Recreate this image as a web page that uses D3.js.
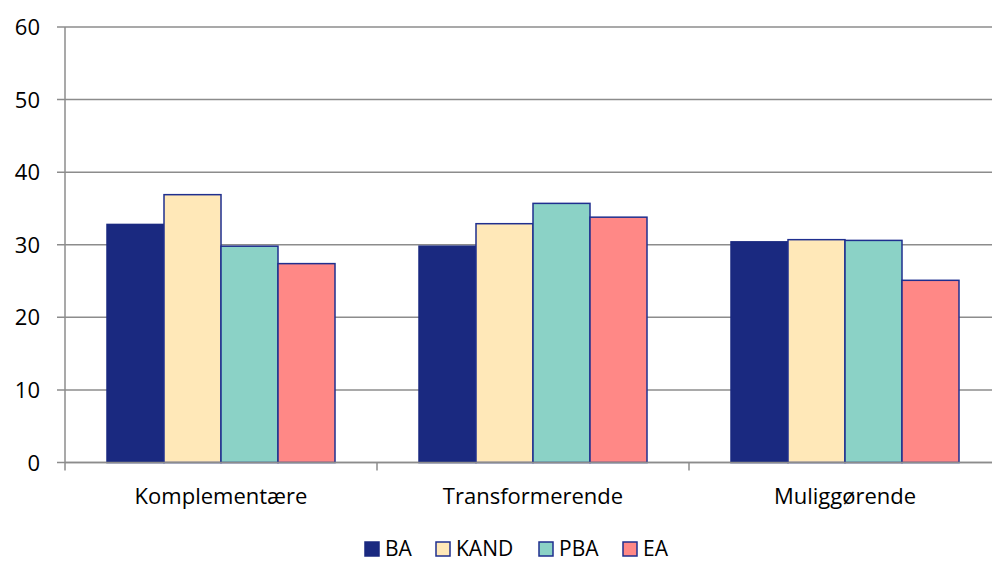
<!DOCTYPE html>
<html>
<head>
<meta charset="utf-8">
<script src="https://cdn.jsdelivr.net/npm/d3@7"></script>
<style>
  html, body { margin: 0; padding: 0; background: #fff; }
  svg { display: block; }
  text { font-family: "Open Sans", "Noto Sans", sans-serif; fill: #000; }
</style>
</head>
<body>
<svg id="chart" width="992" height="563"></svg>
<script>
// Kategorier, serier og værdier
const categories = ["Komplementære", "Transformerende", "Muliggørende"];
const seriesNames = ["BA", "KAND", "PBA", "EA"];
const BA   = [32.8, 29.8, 30.4];
const KAND = [36.9, 32.9, 30.7];
const PBA  = [29.8, 35.7, 30.6];
const EA   = [27.4, 33.8, 25.1];
const yTicks = [0, 10, 20, 30, 40, 50, 60];

const seriesValues = [BA, KAND, PBA, EA];
const colors = ["#1a2980", "#ffe8b8", "#8bd2c6", "#ff8886"];
const strokeColor = "#1f2f8f";

const svg = d3.select("#chart");
const margin = { left: 65, top: 27 };
const catWidth = 312;
const plotRight = 992;
const plotBottom = 462.5;

const x = d3.scaleBand()
  .domain(categories)
  .range([margin.left, margin.left + catWidth * categories.length])
  .paddingInner(0)
  .paddingOuter(0);

const xInner = d3.scaleBand()
  .domain(seriesNames)
  .range([42, catWidth - 42]);

const y = d3.scaleLinear().domain([0, 60]).range([plotBottom, margin.top]);

// Gitterlinjer
svg.append("g")
  .selectAll("line")
  .data(yTicks)
  .join("line")
  .attr("x1", margin.left - 8)
  .attr("x2", plotRight)
  .attr("y1", d => y(d))
  .attr("y2", d => y(d))
  .attr("stroke", "#8c8c8c")
  .attr("stroke-width", 1.5);

// Y-akse etiketter
svg.append("g")
  .selectAll("text")
  .data(yTicks)
  .join("text")
  .attr("x", 40)
  .attr("y", d => y(d) + 8)
  .attr("text-anchor", "end")
  .style("font-size", "22px")
  .text(d => d);

// Y-aksens linje
svg.append("line")
  .attr("x1", margin.left).attr("x2", margin.left)
  .attr("y1", margin.top).attr("y2", plotBottom)
  .attr("stroke", "#8c8c8c").attr("stroke-width", 1.5);

// Søjler
const groups = svg.append("g")
  .selectAll("g")
  .data(categories)
  .join("g")
  .attr("transform", d => `translate(${x(d)},0)`);

groups.selectAll("rect")
  .data((c, ci) => seriesNames.map((s, si) => ({ s, si, v: seriesValues[si][ci] })))
  .join("rect")
  .attr("x", d => xInner(d.s))
  .attr("width", xInner.bandwidth())
  .attr("y", d => y(d.v))
  .attr("height", d => plotBottom - y(d.v))
  .attr("fill", d => colors[d.si])
  .attr("stroke", d => d.si === 0 ? colors[0] : strokeColor)
  .attr("stroke-width", 1.5);

// X-akse linje og tick-markeringer
svg.append("line")
  .attr("x1", margin.left).attr("x2", plotRight)
  .attr("y1", plotBottom).attr("y2", plotBottom)
  .attr("stroke", "#8c8c8c").attr("stroke-width", 1.5);

const xTickPos = d3.range(categories.length + 1).map(i => margin.left + i * catWidth);
svg.append("g")
  .selectAll("line")
  .data(xTickPos)
  .join("line")
  .attr("x1", d => d).attr("x2", d => d)
  .attr("y1", plotBottom).attr("y2", plotBottom + 8)
  .attr("stroke", "#8c8c8c").attr("stroke-width", 1.5);

svg.append("g")
  .selectAll("text")
  .data(categories)
  .join("text")
  .attr("x", d => x(d) + x.bandwidth() / 2)
  .attr("y", 504)
  .attr("text-anchor", "middle")
  .style("font-size", "22px")
  .text(d => d);

// Forklaring
const legendX = [365, 436, 539, 623];
const legend = svg.append("g")
  .selectAll("g")
  .data(seriesNames)
  .join("g")
  .attr("transform", (d, i) => `translate(${legendX[i]},0)`);

legend.append("rect")
  .attr("x", 0).attr("y", 542)
  .attr("width", 14).attr("height", 14)
  .attr("fill", (d, i) => colors[i])
  .attr("stroke", (d, i) => i === 0 ? colors[0] : strokeColor)
  .attr("stroke-width", 1.5);

legend.append("text")
  .attr("x", 20)
  .attr("y", 556)
  .style("font-size", "21px")
  .text(d => d);
</script>
</body>
</html>
